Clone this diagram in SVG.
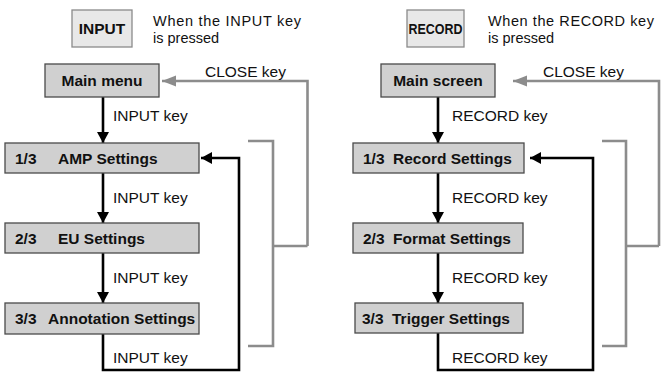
<svg xmlns="http://www.w3.org/2000/svg" width="661" height="373" viewBox="0 0 661 373">
<style>
text{font-family:"Liberation Sans",Arial,sans-serif;font-size:15.5px;fill:#111}
.b{font-weight:bold}
.s{font-size:14.5px}
.key{fill:#e8e8e8;stroke:#8a8a8a;stroke-width:1.3}
.node{fill:#d0d0d0;stroke:#4a4a4a;stroke-width:1.3}
.blk{fill:none;stroke:#000;stroke-width:2.6}
.gry{fill:none;stroke:#8c8c8c;stroke-width:2.6}
</style>
<defs>
<marker id="ab" markerUnits="userSpaceOnUse" markerWidth="14" markerHeight="14" refX="11" refY="6" orient="auto"><path d="M0,0 L11,6 L0,12 Z" fill="#000"/></marker>
<marker id="ag" markerUnits="userSpaceOnUse" markerWidth="16" markerHeight="14" refX="14" refY="5.5" orient="auto"><path d="M0,0 L14,5.5 L0,11 Z" fill="#8c8c8c"/></marker>
</defs>
<g id="legend-input">
<rect class="key" x="72" y="10" width="60" height="37"/>
<text class="b" x="102" y="34" text-anchor="middle">INPUT</text>
<text class="s" x="153" y="25.5" textLength="148" lengthAdjust="spacing">When the INPUT key</text>
<text class="s" x="153" y="42.5">is pressed</text>
</g>
<g id="legend-record">
<rect class="key" x="407" y="10" width="57" height="37"/>
<text class="b" x="408.5" y="34" textLength="54" lengthAdjust="spacingAndGlyphs">RECORD</text>
<text class="s" x="488" y="25.5" textLength="166" lengthAdjust="spacing">When the RECORD key</text>
<text class="s" x="488" y="42.5">is pressed</text>
</g>
<g id="connectors">
<path class="gry" d="M248,141 H273 V346 H248 M273,246 H307.5"/>
<path class="gry" d="M307.5,246 V81 H162" marker-end="url(#ag)"/>
<path class="gry" d="M602,141 H626 V346 H602 M626,246 H659"/>
<path class="gry" d="M659,246 V81 H513" marker-end="url(#ag)"/>
<path class="blk" d="M103,97 V143" marker-end="url(#ab)"/>
<path class="blk" d="M103,173 V223" marker-end="url(#ab)"/>
<path class="blk" d="M103,253 V303" marker-end="url(#ab)"/>
<path class="blk" d="M103,334 V370 H239 V158 H201" marker-end="url(#ab)"/>
<path class="blk" d="M438,97 V143" marker-end="url(#ab)"/>
<path class="blk" d="M438,173 V223" marker-end="url(#ab)"/>
<path class="blk" d="M438,253 V303" marker-end="url(#ab)"/>
<path class="blk" d="M438,333 V370 H593 V158 H530" marker-end="url(#ab)"/>
</g>
<g id="labels">
<text x="205" y="77">CLOSE key</text>
<text x="113" y="121">INPUT key</text>
<text x="113" y="203">INPUT key</text>
<text x="113" y="283">INPUT key</text>
<text x="113" y="363">INPUT key</text>
<text x="543" y="77">CLOSE key</text>
<text x="452" y="121">RECORD key</text>
<text x="452" y="203">RECORD key</text>
<text x="452" y="283">RECORD key</text>
<text x="452" y="363">RECORD key</text>
</g>
<g id="main-menu">
<rect class="node" x="45" y="64" width="114" height="33"/>
<text class="b" x="102" y="86" text-anchor="middle">Main menu</text>
</g>
<g id="amp-settings">
<rect class="node" x="5" y="143" width="194" height="30"/>
<text class="b" x="15" y="164">1/3</text>
<text class="b" x="58" y="164">AMP Settings</text>
</g>
<g id="eu-settings">
<rect class="node" x="5" y="223" width="194" height="30"/>
<text class="b" x="15" y="244">2/3</text>
<text class="b" x="58" y="244">EU Settings</text>
</g>
<g id="annotation-settings">
<rect class="node" x="5" y="303" width="194" height="31"/>
<text class="b" x="15" y="324">3/3</text>
<text class="b" x="48" y="324">Annotation Settings</text>
</g>
<g id="main-screen">
<rect class="node" x="381" y="64" width="114" height="33"/>
<text class="b" x="438" y="86" text-anchor="middle">Main screen</text>
</g>
<g id="record-settings">
<rect class="node" x="353" y="143" width="171" height="30"/>
<text class="b" x="363" y="164">1/3</text>
<text class="b" x="393" y="164">Record Settings</text>
</g>
<g id="format-settings">
<rect class="node" x="353" y="223" width="170" height="30"/>
<text class="b" x="363" y="244">2/3</text>
<text class="b" x="393" y="244">Format Settings</text>
</g>
<g id="trigger-settings">
<rect class="node" x="355" y="303" width="168" height="30"/>
<text class="b" x="362" y="324">3/3</text>
<text class="b" x="392" y="324">Trigger Settings</text>
</g>
</svg>
